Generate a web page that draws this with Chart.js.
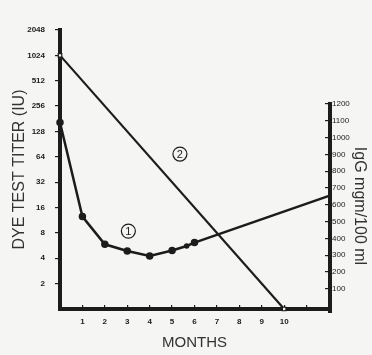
<!DOCTYPE html>
<html>
<head>
<meta charset="utf-8">
<script src="https://cdn.jsdelivr.net/npm/chart.js@4/dist/chart.umd.min.js"></script>
<style>
  html, body { margin: 0; padding: 0; background: #f5f5f3; }
  #wrap { width: 372px; height: 355px; }
</style>
</head>
<body>
<div id="wrap"><canvas id="titerChart" width="372" height="355"></canvas></div>
<script>
// curve 1: IgG (mgm/100 ml), right axis
const iggMonths = [0, 1, 2, 3, 4, 5, 5.65, 6, 12];
const iggValues = [1090, 530, 365, 325, 296, 328, 355, 375, 653];

// curve 2: dye test titer (IU), left log axis
const titerMonths = [0, 10];
const titerValues = [1024, 1];

const titerTicks = [2, 4, 8, 16, 32, 64, 128, 256, 512, 1024, 2048];
const iggTicks = [100, 200, 300, 400, 500, 600, 700, 800, 900, 1000, 1100, 1200];
const monthTicks = [1, 2, 3, 4, 5, 6, 7, 8, 9, 10, 11];
const monthLabels = ['1', '2', '3', '4', '5', '6', '7', '8', '9', '10', ''];

const ink = '#1c1c1c';
const paper = '#f5f5f3';
const labelFont = { family: 'Liberation Sans, Arial, sans-serif', size: 8, weight: 'bold' };

// circled curve numbers, in data coordinates (month, titer)
const curveTags = [
    { text: '1', month: 3.05, titer: 8.4 },
    { text: '2', month: 5.35, titer: 69 }
];

const extras = {
    id: 'extras',
    afterDraw(chart) {
        const { ctx, chartArea, scales } = chart;
        const r = scales.y1;
        ctx.save();

        // right axis only runs from 1200 down
        ctx.strokeStyle = ink;
        ctx.lineWidth = 4;
        ctx.beginPath();
        ctx.moveTo(chartArea.right + 1, r.getPixelForValue(iggTicks[iggTicks.length - 1]) - 2);
        ctx.lineTo(chartArea.right + 1, chartArea.bottom + 4);
        ctx.stroke();

        // circled numbers
        curveTags.forEach(tag => {
            const x = scales.x.getPixelForValue(tag.month);
            const y = scales.y.getPixelForValue(tag.titer);
            ctx.lineWidth = 1.2;
            ctx.beginPath();
            ctx.arc(x, y, 7, 0, Math.PI * 2);
            ctx.stroke();
            ctx.fillStyle = ink;
            ctx.font = '11px "Liberation Sans", Arial, sans-serif';
            ctx.textAlign = 'center';
            ctx.textBaseline = 'middle';
            ctx.fillText(tag.text, x, y + 0.5);
        });

        // right axis title
        ctx.translate(359, 206);
        ctx.rotate(Math.PI / 2);
        ctx.fillStyle = '#333';
        ctx.font = '16px "Liberation Sans", Arial, sans-serif';
        ctx.textAlign = 'center';
        ctx.textBaseline = 'middle';
        ctx.fillText('IgG mgm/100 ml', 0, 0);
        ctx.restore();
    }
};

document.addEventListener('DOMContentLoaded', function() {
    const ctx = document.getElementById('titerChart').getContext('2d');

    new Chart(ctx, {
        type: 'line',
        data: {
            datasets: [{
                label: 'IgG',
                data: iggMonths.map((m, i) => ({ x: m, y: iggValues[i] })),
                yAxisID: 'y1',
                borderColor: ink,
                borderWidth: 2.5,
                pointRadius: [2.5, 2.5, 2.5, 2.5, 2.5, 2.5, 1.5, 2.5, 0],
                pointBackgroundColor: ink,
                pointBorderColor: ink,
                tension: 0,
                clip: false
            }, {
                label: 'Dye test titer',
                data: titerMonths.map((m, i) => ({ x: m, y: titerValues[i] })),
                yAxisID: 'y',
                borderColor: ink,
                borderWidth: 2.2,
                pointStyle: 'rect',
                pointRadius: 2.5,
                pointBackgroundColor: paper,
                pointBorderColor: ink,
                pointBorderWidth: 1.2,
                tension: 0,
                clip: false
            }]
        },
        options: {
            responsive: false,
            animation: false,
            layout: { padding: { top: 30, left: 0, right: 0, bottom: 0 } },
            plugins: {
                legend: { display: false },
                tooltip: { enabled: false }
            },
            scales: {
                x: {
                    type: 'linear',
                    min: 0,
                    max: 12,
                    afterFit: scale => { scale.height = 46; },
                    afterBuildTicks: scale => { scale.ticks = monthTicks.map(v => ({ value: v })); },
                    ticks: {
                        color: ink,
                        font: labelFont,
                        padding: 12,
                        maxRotation: 0,
                        autoSkip: false,
                        callback: (v, i) => monthLabels[i]
                    },
                    grid: { drawOnChartArea: false, tickLength: -4, tickColor: ink, lineWidth: 1.2 },
                    border: { display: true, color: ink, width: 4 },
                    title: {
                        display: true,
                        text: 'MONTHS',
                        color: '#333',
                        font: { family: 'Liberation Sans, Arial, sans-serif', size: 15 },
                        padding: { top: 0, bottom: 3 }
                    }
                },
                y: {
                    type: 'logarithmic',
                    position: 'left',
                    min: 1,
                    max: 2048,
                    afterFit: scale => { scale.width = 60; },
                    afterBuildTicks: scale => { scale.ticks = titerTicks.map(v => ({ value: v })); },
                    ticks: {
                        color: ink,
                        font: labelFont,
                        padding: 10,
                        autoSkip: false,
                        callback: v => String(v)
                    },
                    grid: { drawOnChartArea: false, tickLength: 5, tickColor: ink, lineWidth: 1.2 },
                    border: { display: true, color: ink, width: 4 },
                    title: {
                        display: true,
                        text: 'DYE TEST TITER (IU)',
                        color: '#333',
                        font: { family: 'Liberation Sans, Arial, sans-serif', size: 16 },
                        padding: { top: 10, bottom: 0 }
                    }
                },
                y1: {
                    type: 'linear',
                    position: 'right',
                    min: -20,
                    max: 1640,
                    afterFit: scale => { scale.width = 43; },
                    afterBuildTicks: scale => { scale.ticks = iggTicks.map(v => ({ value: v })); },
                    ticks: {
                        color: ink,
                        font: { family: 'Liberation Sans, Arial, sans-serif', size: 8 },
                        padding: 7,
                        autoSkip: false,
                        callback: v => String(v)
                    },
                    grid: { drawOnChartArea: false, tickLength: -4, tickColor: ink, lineWidth: 1.2 },
                    border: { display: false }
                }
            }
        },
        plugins: [extras]
    });
});
</script>
</body>
</html>
